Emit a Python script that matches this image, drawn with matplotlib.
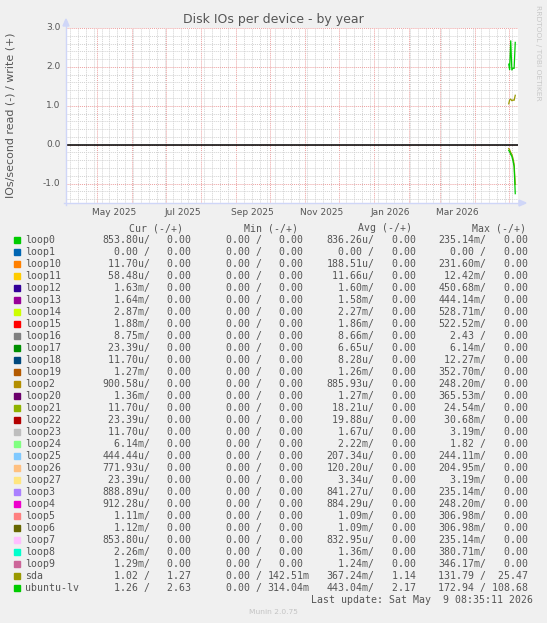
import matplotlib
matplotlib.use('Agg')
import matplotlib.pyplot as plt
import matplotlib.dates as mdates
from matplotlib.patches import Polygon, Rectangle
from matplotlib.lines import Line2D
import datetime as dt

# ---------------- data ----------------
title = "Disk IOs per device - by year"
ylabel = "IOs/second read (-) / write (+)"

x_start = dt.datetime(2025, 4, 3, 12, 0)
x_end = dt.datetime(2026, 5, 8, 12, 0)

y_min, y_max = -1.5, 3.0
y_major = [-1.0, 0.0, 1.0, 2.0, 3.0]
y_major_labels = ["-1.0", "0.0", "1.0", "2.0", "3.0"]

x_label_dates = [dt.datetime(2025, 5, 16), dt.datetime(2025, 7, 16),
                 dt.datetime(2025, 9, 16), dt.datetime(2025, 11, 16),
                 dt.datetime(2026, 1, 16), dt.datetime(2026, 3, 16)]
x_label_texts = ["May 2025", "Jul 2025", "Sep 2025", "Nov 2025",
                 "Jan 2026", "Mar 2026"]

sample_times = ["2026-04-30 18:00", "2026-05-01 12:00", "2026-05-02 12:00",
                "2026-05-03 12:00", "2026-05-04 12:00", "2026-05-05 12:00",
                "2026-05-06 12:00"]
sda_read = [0.10, 0.13, 0.20, 0.25, 0.35, 0.50, 1.02]
sda_write = [1.05, 1.15, 1.17, 1.13, 1.15, 1.14, 1.27]
lv_read = [0.15, 0.18, 0.25, 0.30, 0.42, 0.56, 1.26]
lv_write = [2.07, 1.93, 2.67, 1.92, 1.97, 1.96, 2.63]

devices = ["loop0", "loop1", "loop10", "loop11", "loop12", "loop13", "loop14",
           "loop15", "loop16", "loop17", "loop18", "loop19", "loop2", "loop20",
           "loop21", "loop22", "loop23", "loop24", "loop25", "loop26", "loop27",
           "loop3", "loop4", "loop5", "loop6", "loop7", "loop8", "loop9",
           "sda", "ubuntu-lv"]
colors = ["#00CC00", "#0066B3", "#FF8000", "#FFCC00", "#330099", "#990099",
          "#CCFF00", "#FF0000", "#808080", "#008F00", "#00487D", "#B35A00",
          "#B38F00", "#6B006B", "#8FB300", "#B30000", "#BEBEBE", "#80FF80",
          "#80C9FF", "#FFC080", "#FFE680", "#AA80FF", "#EE00CC", "#FF8080",
          "#666600", "#FFBFFF", "#00FFCC", "#CC6699", "#999900", "#00CC00"]
cur_read = ["853.80u", "0.00", "11.70u", "58.48u", "1.63m", "1.64m", "2.87m",
            "1.88m", "8.75m", "23.39u", "11.70u", "1.27m", "900.58u", "1.36m",
            "11.70u", "23.39u", "11.70u", "6.14m", "444.44u", "771.93u",
            "23.39u", "888.89u", "912.28u", "1.11m", "1.12m", "853.80u",
            "2.26m", "1.29m", "1.02", "1.26"]
cur_write = ["0.00"] * 28 + ["1.27", "2.63"]
min_read = ["0.00"] * 30
min_write = ["0.00"] * 28 + ["142.51m", "314.04m"]
avg_read = ["836.26u", "0.00", "188.51u", "11.66u", "1.60m", "1.58m", "2.27m",
            "1.86m", "8.66m", "6.65u", "8.28u", "1.26m", "885.93u", "1.27m",
            "18.21u", "19.88u", "1.67u", "2.22m", "207.34u", "120.20u",
            "3.34u", "841.27u", "884.29u", "1.09m", "1.09m", "832.95u",
            "1.36m", "1.24m", "367.24m", "443.04m"]
avg_write = ["0.00"] * 28 + ["1.14", "2.17"]
max_read = ["235.14m", "0.00", "231.60m", "12.42m", "450.68m", "444.14m",
            "528.71m", "522.52m", "2.43", "6.14m", "12.27m", "352.70m",
            "248.20m", "365.53m", "24.54m", "30.68m", "3.19m", "1.82",
            "244.11m", "204.95m", "3.19m", "235.14m", "248.20m", "306.98m",
            "306.98m", "235.14m", "380.71m", "346.17m", "131.79", "172.94"]
max_write = ["0.00"] * 28 + ["25.47", "108.68"]

headers = ["Cur (-/+)", "Min (-/+)", "Avg (-/+)", "Max (-/+)"]
last_update = "Last update: Sat May  9 08:35:11 2026"
version = "Munin 2.0.75"
watermark = "RRDTOOL / TOBI OETIKER"

# ---------------- figure ----------------
W, H = 547, 623
DPI = 100
fig = plt.figure(figsize=(W / DPI, H / DPI), dpi=DPI, facecolor="#F0F0F0")

def fx(x):
    return x / W

def fy(y):
    return 1 - y / H

PL, PR, PT, PB = 66, 517.5, 28, 203
ax = fig.add_axes([fx(PL), fy(PB), fx(PR) - fx(PL), fy(PT) - fy(PB)])
ax.set_facecolor("white")
ax.set_xlim(x_start, x_end)
ax.set_ylim(y_min, y_max)
for s in ax.spines.values():
    s.set_visible(False)

# grid
ax.xaxis.set_major_locator(mdates.MonthLocator())
ax.xaxis.set_minor_locator(mdates.WeekdayLocator(byweekday=mdates.MO))
ax.yaxis.set_major_locator(matplotlib.ticker.FixedLocator(y_major))
ax.yaxis.set_minor_locator(matplotlib.ticker.MultipleLocator(0.2))
ax.grid(which="minor", color="#d2d2d2", linestyle=(0, (1, 1)), linewidth=0.7)
ax.grid(which="major", color="#eca0a0", linestyle=(0, (1, 1)), linewidth=0.7)
ax.tick_params(which="both", length=0, labelbottom=False, labelleft=False)
ax.set_axisbelow(True)

# zero line
ax.axhline(0, color="black", linewidth=1.1, zorder=3)

# data
t = [dt.datetime.strptime(s, "%Y-%m-%d %H:%M") for s in sample_times]
ax.plot(t, [-v for v in sda_read], color=colors[28], linewidth=0.9, zorder=4)
ax.plot(t, sda_write, color=colors[28], linewidth=0.9, zorder=4)
ax.plot(t, [-v for v in lv_read], color=colors[29], linewidth=0.9, zorder=5)
ax.plot(t, lv_write, color=colors[29], linewidth=0.9, zorder=5)

# tick labels
tick_col = "#555555"
for v, lab in zip(y_major, y_major_labels):
    ax.text(-0.012, (v - y_min) / (y_max - y_min), lab, transform=ax.transAxes,
            ha="right", va="center", fontsize=6.5, color=tick_col,
            family="DejaVu Sans")
for d, lab in zip(x_label_dates, x_label_texts):
    ax.text(mdates.date2num(d), y_min - 0.12, lab, transform=ax.transData,
            ha="center", va="top", fontsize=6.5, color=tick_col,
            family="DejaVu Sans")

# axes lines + arrows
axis_col = "#CFD6F8"
fig.add_artist(Line2D([fx(PL), fx(PL)], [fy(PB + 2), fy(22)], color=axis_col,
                      linewidth=1.0, transform=fig.transFigure))
fig.add_artist(Line2D([fx(PL - 2), fx(522)], [fy(PB), fy(PB)], color=axis_col,
                      linewidth=1.0, transform=fig.transFigure))
fig.add_artist(Polygon([[fx(PL - 3), fy(26)], [fx(PL + 3), fy(26)], [fx(PL), fy(19)]],
                       closed=True, color=axis_col, transform=fig.transFigure))
fig.add_artist(Polygon([[fx(519), fy(PB - 3)], [fx(519), fy(PB + 3)], [fx(526), fy(PB)]],
                       closed=True, color=axis_col, transform=fig.transFigure))

# title & labels
fig.text(fx(273.5), fy(19), title, ha="center", va="center", fontsize=9.0,
         color="#555555", family="DejaVu Sans")
fig.text(fx(10.5), fy(115), ylabel, ha="center", va="center", rotation=90,
         fontsize=7.9, color="#555555", family="DejaVu Sans")
fig.text(fx(538), fy(53), watermark, ha="center", va="center", rotation=270,
         fontsize=5.4, color="#C8C8C8", family="DejaVu Sans")

# legend
mono = "DejaVu Sans Mono"
leg_fs = 7.1
leg_col = "#555555"
X0, CW = 25.5, 5.9
header_x = [129, 243.5, 358.5, 472.5]
for hx, h in zip(header_x, headers):
    fig.text(fx(hx), fy(228.3), h, ha="left", va="center", fontsize=leg_fs,
             color=leg_col, family=mono)

def field(s):
    if s[-1].isalpha():
        return s[:-1].rjust(6) + s[-1]
    return s.rjust(6) + " "

field_cols = [13, 22, 32, 41, 51, 60, 70, 79]
row0, dy = 239.7, 12.0
for i, name in enumerate(devices):
    y = row0 + i * dy
    parts = [field(cur_read[i]) + "/", field(cur_write[i]),
             field(min_read[i]) + "/", field(min_write[i]),
             field(avg_read[i]) + "/", field(avg_write[i]),
             field(max_read[i]) + "/", field(max_write[i])]
    fig.add_artist(Rectangle((fx(14), fy(y + 3)), fx(6), 6 / H, color=colors[i],
                             transform=fig.transFigure))
    fig.text(fx(X0), fy(y), name, ha="left", va="center", fontsize=leg_fs,
             color=leg_col, family=mono)
    for c, p in zip(field_cols, parts):
        fig.text(fx(X0 + c * CW), fy(y), p, ha="left", va="center",
                 fontsize=leg_fs, color=leg_col, family=mono)

fig.text(fx(533), fy(600), last_update, ha="right", va="center",
         fontsize=leg_fs, color=leg_col, family=mono)
fig.text(fx(273), fy(612.3), version, ha="center", va="center", fontsize=5.4,
         color="#C4C4C4", family="DejaVu Sans")

fig.savefig("out.png", dpi=DPI, facecolor=fig.get_facecolor())
